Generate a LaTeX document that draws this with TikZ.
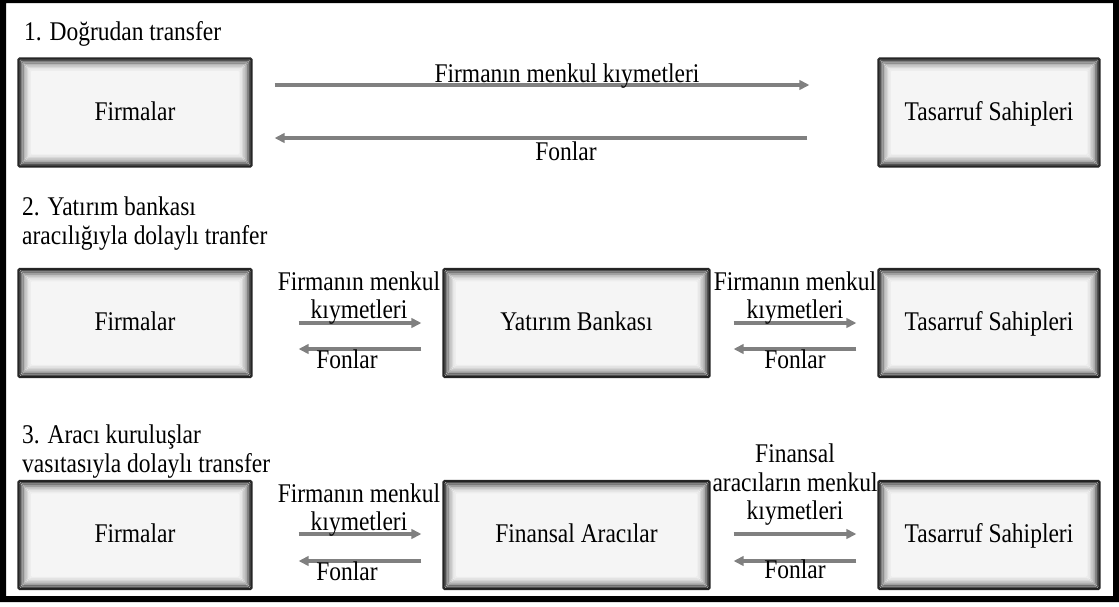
\documentclass[tikz,border=0pt]{standalone}
\usepackage{fontspec}
\setmainfont{Liberation Serif}[FakeStretch=0.87]
\usetikzlibrary{arrows.meta}

\begin{document}
\begin{tikzpicture}[x=1pt,y=-1pt,
  txt/.style={font=\fontsize{27}{28.5}\selectfont, inner sep=0pt},
  party/.style={txt, draw=black!85, line width=1.2pt, fill=black!4,
    rounded corners=1.5pt, minimum height=109pt, text height=18pt, text depth=3pt,
    path picture={
      \foreach \d/\o in {0.8/0.85,2.2/0.64,3.6/0.48,5/0.35,6.4/0.25,7.8/0.17,9.2/0.11,10.6/0.06,12/0.03}
        \draw[black, opacity=\o, line width=1.5pt]
          ([shift={(\d pt,-\d pt)}]path picture bounding box.north west) rectangle
          ([shift={(-\d pt,\d pt)}]path picture bounding box.south east);
    }},
  flow/.style={draw=black!50, line width=3.2pt, -{Triangle[length=10pt,width=9.5pt]}},
]
\useasboundingbox (0,0) rectangle (1119,606);

% outer frame
\fill[black, even odd rule] (0,0) rectangle (1119,602) (6,3) rectangle (1113,596);

% 1. direct transfer
\node[txt, anchor=base west] (s1) at (24,40) {1. Doğrudan transfer};
\node[party, minimum width=234pt] (f1) at (135,112.5) {Firmalar};
\node[party, minimum width=222pt] (t1) at (989,112.5) {Tasarruf Sahipleri};
\draw[flow, shorten <=22pt, shorten >=68pt] ([yshift=27.5pt]f1.east) -- ([yshift=27.5pt]t1.west);
\draw[flow, shorten <=70pt, shorten >=22pt] ([yshift=-25.5pt]t1.west) -- ([yshift=-25.5pt]f1.east);
\node[txt, anchor=base] (m1) at (567,82) {Firmanın menkul kıymetleri};
\node[txt, anchor=base] (p1) at (566,160) {Fonlar};

% 2. indirect transfer through an investment bank
\node[txt, anchor=north west, align=left] (s2) at (22,197) {2. Yatırım bankası\\aracılığıyla dolaylı tranfer};
\node[party, minimum width=234pt] (f2) at (135,323) {Firmalar};
\node[party, minimum width=267pt] (y2) at (576.5,323) {Yatırım Bankası};
\node[party, minimum width=222pt] (t2) at (989,323) {Tasarruf Sahipleri};
\draw[flow, shorten <=46pt, shorten >=21pt] (f2.east) -- (y2.west);
\draw[flow, shorten <=21pt, shorten >=46pt] ([yshift=-26pt]y2.west) -- ([yshift=-26pt]f2.east);
\draw[flow, shorten <=23pt, shorten >=21pt] (y2.east) -- (t2.west);
\draw[flow, shorten <=21pt, shorten >=23pt] ([yshift=-26pt]t2.west) -- ([yshift=-26pt]y2.east);
\node[txt, anchor=north, align=center] (m2a) at (359,271.5) {Firmanın menkul\\kıymetleri};
\node[txt, anchor=base] (p2a) at (347,368) {Fonlar};
\node[txt, anchor=north, align=center] (m2b) at (795,271.5) {Firmanın menkul\\kıymetleri};
\node[txt, anchor=base] (p2b) at (795,368) {Fonlar};

% 3. indirect transfer through intermediaries
\node[txt, anchor=north west, align=left] (s3) at (22,425) {3. Aracı kuruluşlar\\vasıtasıyla dolaylı transfer};
\node[party, minimum width=234pt] (f3) at (135,535) {Firmalar};
\node[party, minimum width=267pt] (y3) at (576.5,535) {Finansal Aracılar};
\node[party, minimum width=222pt] (t3) at (989,535) {Tasarruf Sahipleri};
\draw[flow, shorten <=46pt, shorten >=21pt] ([yshift=1pt]f3.east) -- ([yshift=1pt]y3.west);
\draw[flow, shorten <=21pt, shorten >=46pt] ([yshift=-26pt]y3.west) -- ([yshift=-26pt]f3.east);
\draw[flow, shorten <=23pt, shorten >=21pt] ([yshift=1pt]y3.east) -- ([yshift=1pt]t3.west);
\draw[flow, shorten <=21pt, shorten >=23pt] ([yshift=-26pt]t3.west) -- ([yshift=-26pt]y3.east);
\node[txt, anchor=north, align=center] (m3a) at (359,483.5) {Firmanın menkul\\kıymetleri};
\node[txt, anchor=base] (p3a) at (347,580) {Fonlar};
\node[txt, anchor=north, align=center] (m3b) at (795,444) {Finansal\\aracıların menkul\\kıymetleri};
\node[txt, anchor=base] (p3b) at (795,578) {Fonlar};
\end{tikzpicture}
\end{document}
